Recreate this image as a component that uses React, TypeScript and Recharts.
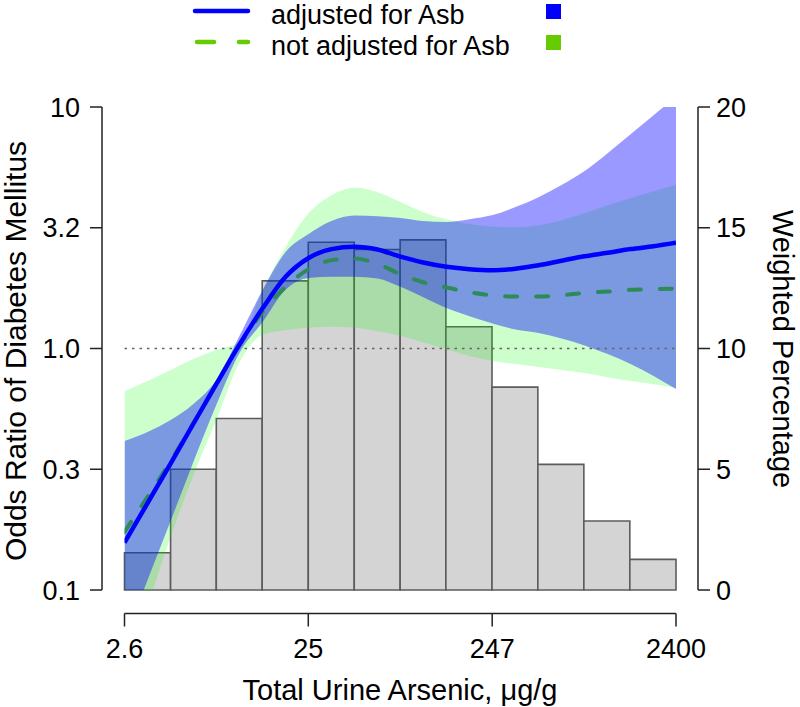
import {
  ComposedChart,
  Area,
  Line,
  XAxis,
  YAxis,
  ReferenceArea,
  ReferenceLine,
} from "recharts";

// total urine arsenic (ug/g), sample points of the fitted curves
const arsenic = [2.6, 3.46, 4.6, 6.1, 8.1, 10.8, 14.4, 19.1, 25.4, 33.7, 44.9, 59.6, 79.3, 105, 140, 186, 248, 329, 438, 582, 774, 1029, 1368, 1818, 2400];

// odds ratios, adjusted for Asb (blue)
const orAdjusted = [0.157, 0.229, 0.334, 0.488, 0.712, 1.04, 1.47, 1.98, 2.37, 2.58, 2.64, 2.57, 2.4, 2.27, 2.18, 2.13, 2.11, 2.14, 2.21, 2.31, 2.41, 2.49, 2.58, 2.65, 2.74];
const ciAdjLow = [0.062, 0.11, 0.193, 0.339, 0.583, 0.96, 1.29, 1.75, 1.96, 1.98, 1.98, 1.95, 1.8, 1.63, 1.47, 1.36, 1.27, 1.2, 1.16, 1.1, 1.03, 0.948, 0.862, 0.769, 0.679];
const ciAdjHigh = [0.414, 0.451, 0.506, 0.589, 0.74, 1.13, 1.75, 2.51, 2.98, 3.37, 3.55, 3.53, 3.47, 3.37, 3.34, 3.43, 3.57, 3.85, 4.23, 4.75, 5.43, 6.44, 7.72, 9.25, 11.0];

// odds ratios, not adjusted for Asb (green)
const orUnadjusted = [0.174, 0.243, 0.342, 0.491, 0.712, 1.03, 1.42, 1.8, 2.13, 2.32, 2.36, 2.24, 2.03, 1.88, 1.79, 1.71, 1.66, 1.64, 1.64, 1.66, 1.7, 1.72, 1.75, 1.76, 1.77];
const ciUnadjLow = [0.042, 0.085, 0.166, 0.299, 0.506, 0.878, 1.14, 1.19, 1.22, 1.23, 1.22, 1.18, 1.13, 1.06, 0.994, 0.93, 0.887, 0.862, 0.838, 0.814, 0.791, 0.761, 0.733, 0.712, 0.686];
const ciUnadjHigh = [0.666, 0.733, 0.814, 0.904, 0.985, 1.07, 1.75, 2.63, 3.63, 4.31, 4.63, 4.44, 4.04, 3.67, 3.43, 3.27, 3.2, 3.18, 3.24, 3.4, 3.63, 3.92, 4.19, 4.48, 4.75];

// histogram of weighted percentage
const binEdges = [2.6, 4.6, 8.1, 14.3, 25.3, 44.7, 78.9, 139, 246, 434, 767, 1355, 2400];
const weightedPct = [1.54, 5.0, 7.1, 12.8, 14.4, 14.1, 14.5, 10.9, 8.4, 5.2, 2.86, 1.27];

const xTicks = [2.6, 25.3, 246.6, 2400];
const xTickLabels = ["2.6", "25", "247", "2400"];
const orTicks = [0.1, 0.3162, 1, 3.162, 10];
const orTickLabels = ["0.1", "0.3", "1.0", "3.2", "10"];
const pctTicks = [0, 5, 10, 15, 20];

const FONT = '"Liberation Sans", Arial, Helvetica, sans-serif';
const axisStroke = { stroke: "#222", strokeWidth: 1.5 };
const tickStyle = { fontSize: 27, fill: "#000", fontFamily: FONT };

function LegendRow({ top, textTop, label, color, swatch, dashed }: { top: number; textTop: number; label: string; color: string; swatch: string; dashed?: boolean }) {
  return (
    <>
      <svg width={70} height={24} style={{ position: "absolute", left: 190, top }}>
        <line
          x1={dashed ? 7 : 5}
          x2={58}
          y1={11}
          y2={11}
          stroke={color}
          strokeWidth={4.5}
          strokeLinecap="round"
          strokeDasharray={dashed ? "17 25" : undefined}
        />
      </svg>
      <div style={{ position: "absolute", left: 271, top: textTop, fontSize: 27, lineHeight: "30px", whiteSpace: "nowrap" }}>{label}</div>
      <div style={{ position: "absolute", left: 546, top: top + 4, width: 15, height: 15, background: swatch }} />
    </>
  );
}

export default function App() {
  const data = arsenic.map((x, i) => ({
    x,
    adjusted: orAdjusted[i],
    unadjusted: orUnadjusted[i],
    adjustedCI: [ciAdjLow[i], ciAdjHigh[i]],
    unadjustedCI: [ciUnadjLow[i], ciUnadjHigh[i]],
  }));

  return (
    <div style={{ position: "absolute", left: 0, top: 0, width: 800, height: 707, fontFamily: FONT, background: "#fff" }}>
      <ComposedChart width={800} height={707} data={data} margin={{ top: 107, right: 0, bottom: 0, left: 0 }}>
        <XAxis xAxisId="gap" type="number" domain={[0, 1]} height={23.5} tick={false} axisLine={false} tickLine={false} />
        <XAxis
          xAxisId="x"
          dataKey="x"
          type="number"
          scale="log"
          domain={[2.6, 2400]}
          allowDataOverflow
          ticks={xTicks}
          interval={0}
          tickFormatter={(v: number) => xTickLabels[xTicks.indexOf(v)]}
          height={93.5}
          tickSize={13}
          tickMargin={12}
          tick={tickStyle}
          axisLine={axisStroke}
          tickLine={axisStroke}
        />
        <YAxis yAxisId="gapL" orientation="left" type="number" domain={[0, 1]} width={22.5} tick={false} axisLine={false} tickLine={false} />
        <YAxis
          yAxisId="or"
          orientation="left"
          type="number"
          scale="log"
          domain={[0.1, 10]}
          allowDataOverflow
          ticks={orTicks}
          interval={0}
          tickFormatter={(v: number) => orTickLabels[orTicks.indexOf(v)]}
          width={102}
          tickSize={12}
          tickMargin={10}
          tick={tickStyle}
          axisLine={axisStroke}
          tickLine={axisStroke}
        />
        <YAxis yAxisId="gapR" orientation="right" type="number" domain={[0, 1]} width={22} tick={false} axisLine={false} tickLine={false} />
        <YAxis
          yAxisId="pct"
          orientation="right"
          type="number"
          domain={[0, 20]}
          allowDataOverflow
          ticks={pctTicks}
          interval={0}
          width={102}
          tickSize={12}
          tickMargin={6}
          tick={tickStyle}
          axisLine={axisStroke}
          tickLine={axisStroke}
        />

        {weightedPct.map((p, i) => (
          <ReferenceArea
            key={i}
            xAxisId="x"
            yAxisId="pct"
            x1={binEdges[i]}
            x2={binEdges[i + 1]}
            y1={0}
            y2={p}
            fill="#d4d4d4"
            fillOpacity={1}
            stroke="#5c5c5c"
            strokeWidth={1.6}
          />
        ))}

        <ReferenceLine xAxisId="x" yAxisId="or" y={1} stroke="#666" strokeWidth={1.5} strokeDasharray="2.5 5" />

        <Area
          xAxisId="x"
          yAxisId="or"
          dataKey="unadjustedCI"
          type="monotone"
          fill="#00ff00"
          fillOpacity={0.2}
          stroke="none"
          isAnimationActive={false}
        />
        <Area
          xAxisId="x"
          yAxisId="or"
          dataKey="adjustedCI"
          type="monotone"
          fill="#0000ff"
          fillOpacity={0.4}
          stroke="none"
          isAnimationActive={false}
        />
        <Line
          xAxisId="x"
          yAxisId="or"
          dataKey="unadjusted"
          type="monotone"
          stroke="#2e8b57"
          strokeWidth={4}
          strokeDasharray="12 19"
          strokeLinecap="round"
          dot={false}
          isAnimationActive={false}
        />
        <Line
          xAxisId="x"
          yAxisId="or"
          dataKey="adjusted"
          type="monotone"
          stroke="#0000ff"
          strokeWidth={4.5}
          dot={false}
          isAnimationActive={false}
        />
      </ComposedChart>

      <LegendRow top={0} textTop={0} label="adjusted for Asb" color="#0000ff" swatch="#0000ff" />
      <LegendRow top={31} textTop={30.5} label="not adjusted for Asb" color="#66cc00" swatch="#66cc00" dashed />

      <div
        style={{
          position: "absolute",
          left: 16,
          top: 351,
          transform: "translate(-50%, -50%) rotate(-90deg)",
          fontSize: 30,
          lineHeight: "28px",
          whiteSpace: "nowrap",
        }}
      >
        Odds Ratio of Diabetes Mellitus
      </div>
      <div
        style={{
          position: "absolute",
          left: 783,
          top: 349,
          transform: "translate(-50%, -50%) rotate(90deg)",
          fontSize: 29,
          lineHeight: "28px",
          whiteSpace: "nowrap",
        }}
      >
        Weighted Percentage
      </div>
      <div
        style={{
          position: "absolute",
          left: 400,
          top: 690,
          transform: "translate(-50%, -50%)",
          fontSize: 29,
          whiteSpace: "nowrap",
        }}
      >
        Total Urine Arsenic, μg/g
      </div>
    </div>
  );
}
